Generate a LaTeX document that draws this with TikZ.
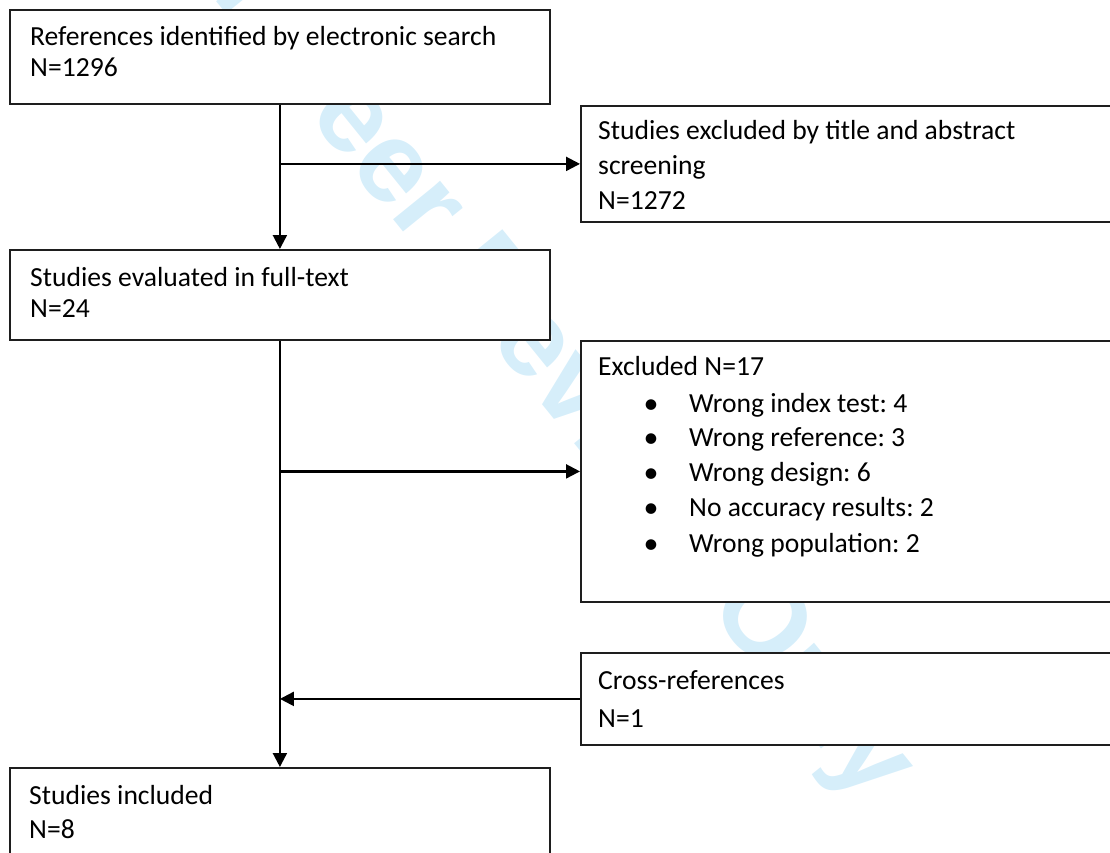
\documentclass[tikz,border=0pt]{standalone}
\usepackage{fontspec}
\setmainfont{Carlito}
\newfontfamily\wmfamily{Liberation Sans}
\usetikzlibrary{arrows.meta}
\definecolor{wmcyan}{RGB}{214,238,250}
\definecolor{boxline}{RGB}{30,30,30}
\frenchspacing
\begin{document}
\frenchspacing
\begin{tikzpicture}[x=1pt,y=-1pt,
  box/.style={draw=boxline, line width=1.8pt, fill=white, rectangle, inner sep=0pt, anchor=north west, minimum width=540pt},
  txt/.style={anchor=base west, inner sep=0pt, font=\fontsize{27.6}{33}\selectfont},
  bul/.style={anchor=base, inner sep=0pt, font=\fontsize{30}{33}\selectfont},
  arr/.style={line width=2.2pt, draw=black, -{Triangle[length=14pt,width=14pt]}},
]
\clip (0,0) rectangle (1110,853);
% watermark
\node[rotate=-51, text=wmcyan, inner sep=0pt, font=\wmfamily\bfseries\fontsize{115}{120}\selectfont] (wm) at (518,327) {For Peer Review Only};
% boxes
\node[box, minimum height=94pt]  (b1) at (9,9) {};
\node[box, minimum height=116pt] (b2) at (580,105) {};
\node[box, minimum height=90pt]  (b3) at (9,249) {};
\node[box, minimum height=261pt] (b4) at (580,340) {};
\node[box, minimum height=92pt]  (b5) at (580,652) {};
\node[box, minimum height=100pt] (b6) at (9,767) {};
% texts
\node[txt] (t1a) at (30,46) {References identified by electronic search};
\node[txt] (t1b) at (30,77) {N=1296};
\node[txt] (t2a) at (598,140) {Studies excluded by title and abstract};
\node[txt] (t2b) at (598,175) {screening};
\node[txt] (t2c) at (598,209) {N=1272};
\node[txt] (t3a) at (30,286) {Studies evaluated in full-text};
\node[txt] (t3b) at (30,317) {N=24};
\node[txt] (t4a) at (598,375) {Excluded N=17};
\node[bul] (u1) at (651,413) {•};
\node[bul] (u2) at (651,447) {•};
\node[bul] (u3) at (651,482) {•};
\node[bul] (u4) at (651,517) {•};
\node[bul] (u5) at (651,553) {•};
\node[txt] (t4b) at (689,412) {Wrong index test: 4};
\node[txt] (t4c) at (689,446) {Wrong reference: 3};
\node[txt] (t4d) at (689,481) {Wrong design: 6};
\node[txt] (t4e) at (689,516) {No accuracy results: 2};
\node[txt] (t4f) at (689,552) {Wrong population: 2};
\node[txt] (t5a) at (598,689) {Cross-references};
\node[txt] (t5b) at (598,727) {N=1};
\node[txt] (t6a) at (29,804) {Studies included};
\node[txt] (t6b) at (29,838) {N=8};
% connectors
\draw[arr] (b1.south) -- (b3.north);
\draw[arr] (b1.south |- b2.west) -- (b2.west);
\draw[arr] (b3.south) -- (b6.north);
\draw[arr] (b3.south |- b4.west) -- (b4.west);
\draw[arr] (b5.west) -- (b5.west -| b3.south);
\end{tikzpicture}
\end{document}
